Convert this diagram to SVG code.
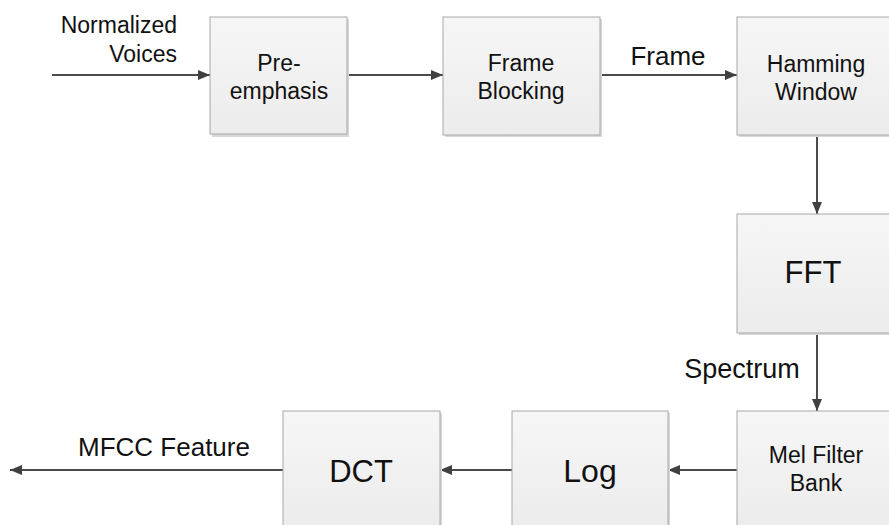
<svg xmlns="http://www.w3.org/2000/svg" width="889" height="525" viewBox="0 0 889 525">
<defs>
<linearGradient id="g" x1="0" y1="0" x2="0" y2="1">
<stop offset="0" stop-color="#f6f6f6"/>
<stop offset="1" stop-color="#ececec"/>
</linearGradient>
<marker id="ah" viewBox="0 0 12 10" refX="12" refY="5" markerWidth="12" markerHeight="11" markerUnits="userSpaceOnUse" orient="auto">
<path d="M0,0 L12,5 L0,10 Z" fill="#404040"/>
</marker>
</defs>
<style>
.box{fill:url(#g);stroke:#a8a8a8;stroke-width:1}
.sh{fill:#d8d8d8}
.t{font-family:"Liberation Sans",Arial,sans-serif;fill:#111;text-anchor:middle}
.c{stroke:#4a4a4a;stroke-width:2;fill:none;marker-end:url(#ah)}
</style>
<rect width="889" height="525" fill="#fff"/>
<g id="connectors">
<line class="c" x1="52" y1="75" x2="210" y2="75"/>
<line class="c" x1="347" y1="75" x2="443" y2="75"/>
<line class="c" x1="600" y1="75" x2="737" y2="75"/>
<line class="c" x1="817" y1="135" x2="817" y2="214"/>
<line class="c" x1="817" y1="333" x2="817" y2="411"/>
<line class="c" x1="737" y1="470" x2="668" y2="470"/>
<line class="c" x1="512" y1="470" x2="440" y2="470"/>
<line class="c" x1="283" y1="470" x2="10" y2="470"/>
</g>
<g id="label-input">
<text class="t" style="text-anchor:end" x="177" y="33" font-size="23">Normalized</text>
<text class="t" style="text-anchor:end" x="177" y="62" font-size="23">Voices</text>
</g>
<g id="label-frame"><text class="t" x="668" y="65" font-size="26">Frame</text></g>
<g id="label-spectrum"><text class="t" x="742" y="378" font-size="27">Spectrum</text></g>
<g id="label-mfcc"><text class="t" x="164" y="456" font-size="26">MFCC Feature</text></g>
<g id="preemphasis">
<rect class="sh" x="212" y="19" width="137" height="118"/>
<rect class="box" x="210" y="17" width="137" height="117"/>
<text class="t" x="279" y="71" font-size="23">Pre-</text>
<text class="t" x="279" y="99" font-size="23">emphasis</text>
</g>
<g id="frameblocking">
<rect class="sh" x="445" y="19" width="157" height="118"/>
<rect class="box" x="443" y="17" width="157" height="118"/>
<text class="t" x="521" y="71" font-size="23">Frame</text>
<text class="t" x="521" y="99" font-size="23">Blocking</text>
</g>
<g id="hamming">
<rect class="sh" x="739" y="19" width="158" height="118"/>
<rect class="box" x="737" y="17" width="158" height="118"/>
<text class="t" x="816" y="72" font-size="23">Hamming</text>
<text class="t" x="816" y="100" font-size="23">Window</text>
</g>
<g id="fft">
<rect class="sh" x="739" y="216" width="158" height="119"/>
<rect class="box" x="737" y="214" width="158" height="119"/>
<text class="t" x="813" y="283" font-size="31">FFT</text>
</g>
<g id="melfilter">
<rect class="sh" x="739" y="413" width="158" height="118"/>
<rect class="box" x="737" y="411" width="158" height="118"/>
<text class="t" x="816" y="463" font-size="23">Mel Filter</text>
<text class="t" x="816" y="491" font-size="23">Bank</text>
</g>
<g id="log">
<rect class="sh" x="514" y="413" width="156" height="118"/>
<rect class="box" x="512" y="411" width="156" height="118"/>
<text class="t" x="590" y="482" font-size="32">Log</text>
</g>
<g id="dct">
<rect class="sh" x="285" y="413" width="157" height="118"/>
<rect class="box" x="283" y="411" width="157" height="118"/>
<text class="t" x="361" y="482" font-size="31">DCT</text>
</g>
</svg>
